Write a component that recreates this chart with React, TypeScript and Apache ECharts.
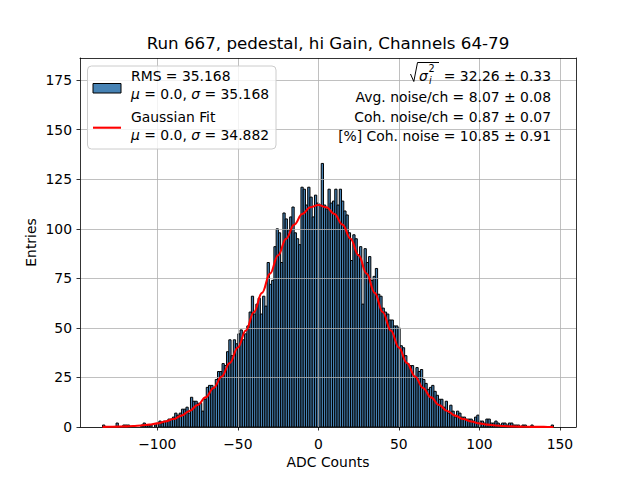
import * as echarts from 'echarts';
import React, { useEffect, useRef } from 'react';

// histogram: 200 bins starting at -134, 1.4 ADC counts wide
const HIST_START = -134;
const BIN_WIDTH = 1.4;
const binCounts = [
  1, 0, 0, 0, 0, 0, 2, 0, 0, 1, 1, 1, 0, 0, 0, 0, 0, 1, 2, 1,
  1, 1, 0, 1, 2, 3, 2, 3, 3, 4, 4, 5, 7, 6, 7, 9, 9, 10, 7, 15,
  13, 13, 12, 12, 8, 14, 20, 21, 21, 20, 24, 28, 28, 32, 31, 38, 44, 36, 44, 42,
  47, 49, 44, 47, 51, 58, 66, 57, 62, 65, 57, 66, 61, 83, 72, 74, 91, 100, 98, 83,
  108, 105, 99, 106, 111, 98, 95, 92, 121, 120, 112, 121, 116, 106, 117, 113, 112, 133, 112, 110,
  120, 113, 114, 120, 112, 120, 114, 109, 107, 98, 84, 97, 95, 87, 91, 62, 90, 83, 86, 74,
  76, 80, 67, 66, 60, 58, 57, 54, 54, 51, 51, 50, 41, 40, 36, 32, 31, 31, 25, 30,
  28, 29, 24, 22, 19, 20, 21, 18, 16, 14, 14, 10, 13, 7, 11, 8, 5, 8, 7, 5,
  5, 4, 4, 4, 3, 5, 6, 3, 3, 2, 4, 4, 2, 2, 3, 2, 1, 2, 2, 1,
  2, 2, 1, 1, 1, 0, 1, 1, 0, 0, 1, 0, 0, 0, 0, 0, 0, 0, 0, 1,
];

// gaussian fit curve
const fitX = [
  -134, -130, -125, -120, -115, -110, -105, -100, -95, -90, -85, -80, -75, -70, -65, -60,
  -55, -50, -45, -40, -35, -30, -25, -20, -15, -10, -5, 0, 5, 10, 15, 20, 25, 30, 35, 40,
  45, 50, 55, 60, 65, 70, 75, 80, 85, 90, 95, 100, 105, 110, 115, 120, 125, 130, 135, 140,
  145, 146,
];
const fitY = [
  0.07, 0.11, 0.18, 0.3, 0.49, 0.78, 1.21, 1.84, 2.75, 4.01, 5.75, 8.08, 11.1, 14.95, 19.7, 25.5,
  32.3, 40.1, 48.7, 58.0, 67.7, 77.4, 86.6, 95.0, 102.1, 107.5, 110.9, 112.0, 110.9, 107.5, 102.1, 95.0, 86.6, 77.4, 67.7, 58.0,
  48.7, 40.1, 32.3, 25.5, 19.7, 14.95, 11.1, 8.08, 5.75, 4.01, 2.75, 1.84, 1.21, 0.78, 0.49, 0.3, 0.18, 0.11, 0.06, 0.04,
  0.02, 0.02,
];

const xTicks = [-100, -50, 0, 50, 100, 150];
const yTicks = [0, 25, 50, 75, 100, 125, 150, 175];

const title = 'Run 667, pedestal, hi Gain, Channels 64-79';
const legendLines = [
  'RMS = 35.168',
  '{it|μ} = 0.0, {it|σ} = 35.168',
  'Gaussian Fit',
  '{it|μ} = 0.0, {it|σ} = 34.882',
];
const statLines = [
  '= 32.26 ± 0.33',
  'Avg. noise/ch = 8.07 ± 0.08',
  'Coh. noise/ch = 0.87 ± 0.07',
  '[%] Coh. noise = 10.85 ± 0.91',
];

const FONT = 'DejaVu Sans';
const FS = 13.9;
const BAR_COLOR = '#4682b4';

const histData = binCounts.map((c, i) => [
  HIST_START + i * BIN_WIDTH,
  HIST_START + (i + 1) * BIN_WIDTH,
  c,
]);

const txt = (text: string, x: number, y: number, extra: any = {}) => ({
  type: 'text',
  z: 100,
  style: {
    text,
    x,
    y,
    fontFamily: FONT,
    fontSize: FS,
    fill: '#000',
    align: 'left',
    verticalAlign: 'middle',
    rich: { it: { fontStyle: 'italic', fontFamily: FONT, fontSize: FS, fill: '#000' } },
    ...extra,
  },
});

const minus = (v: number) => (v < 0 ? '\u2212' + Math.abs(v) : String(v));

const option: any = {
  animation: false,
  backgroundColor: '#fff',
  grid: { left: 80, right: 64, top: 58, bottom: 53 },
  xAxis: [
    {
      type: 'value',
      min: -148,
      max: 160,
      z: 3,
      axisLine: { show: true, onZero: false, lineStyle: { color: '#000', width: 0.8 } },
      axisTick: { show: true, length: 3.5, customValues: xTicks, lineStyle: { color: '#000', width: 0.8 } },
      axisLabel: {
        customValues: xTicks,
        margin: 10,
        fontFamily: FONT,
        fontSize: FS,
        color: '#000',
        formatter: minus,
      },
      splitLine: { show: true, lineStyle: { color: '#b0b0b0', width: 0.8 } },
    },
    {
      type: 'value',
      position: 'top',
      min: -148,
      max: 160,
      z: 3,
      axisLine: { show: true, onZero: false, lineStyle: { color: '#000', width: 0.8 } },
      axisTick: { show: false },
      axisLabel: { show: false },
      splitLine: { show: false },
    },
  ],
  yAxis: [
    {
      type: 'value',
      min: 0,
      max: 186.2,
      z: 3,
      axisLine: { show: true, onZero: false, lineStyle: { color: '#000', width: 0.8 } },
      axisTick: { show: true, length: 3.5, customValues: yTicks, lineStyle: { color: '#000', width: 0.8 } },
      axisLabel: {
        customValues: yTicks,
        margin: 8,
        fontFamily: FONT,
        fontSize: FS,
        color: '#000',
      },
      splitLine: { show: true, lineStyle: { color: '#b0b0b0', width: 0.8 } },
    },
    {
      type: 'value',
      position: 'right',
      min: 0,
      max: 186.2,
      z: 3,
      axisLine: { show: true, onZero: false, lineStyle: { color: '#000', width: 0.8 } },
      axisTick: { show: false },
      axisLabel: { show: false },
      splitLine: { show: false },
    },
  ],
  series: [
    {
      type: 'custom',
      z: 2,
      xAxisIndex: 0,
      yAxisIndex: 0,
      dimensions: ['x0', 'x1', 'count'],
      encode: { x: [0, 1], y: 2 },
      data: histData,
      renderItem: (params: any, api: any) => {
        const c = api.value(2);
        if (!c) return null;
        const p0 = api.coord([api.value(0), c]);
        const p1 = api.coord([api.value(1), 0]);
        return {
          type: 'rect',
          shape: { x: p0[0], y: p0[1], width: p1[0] - p0[0], height: p1[1] - p0[1] },
          style: { fill: BAR_COLOR, stroke: '#000', lineWidth: 1 },
        };
      },
    },
    {
      type: 'line',
      z: 4,
      xAxisIndex: 0,
      yAxisIndex: 0,
      data: fitX.map((x, i) => [x, fitY[i]]),
      showSymbol: false,
      smooth: 0.4,
      smoothMonotone: 'x',
      lineStyle: { color: '#ff0000', width: 2.1 },
    },
  ],
  graphic: [
    txt(title, 328, 43, { fontSize: 16.7, align: 'center' }),
    txt('ADC Counts', 328, 462, { align: 'center' }),
    {
      type: 'text',
      z: 100,
      x: 31,
      y: 242.5,
      rotation: Math.PI / 2,
      style: {
        text: 'Entries',
        fontFamily: FONT,
        fontSize: FS,
        fill: '#000',
        align: 'center',
        verticalAlign: 'middle',
      },
    },
    // legend
    {
      type: 'rect',
      z: 90,
      shape: { x: 87.5, y: 66, width: 188.5, height: 83, r: 4 },
      style: { fill: 'rgba(255,255,255,0.8)', stroke: '#cccccc', lineWidth: 1 },
    },
    {
      type: 'rect',
      z: 100,
      shape: { x: 93, y: 83.5, width: 28, height: 9.5 },
      style: { fill: BAR_COLOR, stroke: '#000', lineWidth: 1 },
    },
    {
      type: 'line',
      z: 100,
      shape: { x1: 93, y1: 127.7, x2: 121, y2: 127.7 },
      style: { stroke: '#ff0000', lineWidth: 2.1 },
    },
    txt(legendLines[0], 131, 75.5),
    txt(legendLines[1], 131, 93.5),
    txt(legendLines[2], 131, 116.5),
    txt(legendLines[3], 131, 135),
    // stats text (top right)
    {
      type: 'polyline',
      z: 100,
      shape: { points: [[410.5, 74], [413.8, 81.5], [417.5, 62.5], [439, 62.5]] },
      style: { stroke: '#000', lineWidth: 1, fill: null },
    },
    txt('σ', 419, 76, { fontStyle: 'italic' }),
    txt('2', 428.5, 68.5, { fontSize: 9.7 }),
    txt('i', 429, 80.5, { fontSize: 9.7, fontStyle: 'italic' }),
    txt(statLines[0], 551, 76, { align: 'right' }),
    txt(statLines[1], 551, 96.7, { align: 'right' }),
    txt(statLines[2], 551, 116.7, { align: 'right' }),
    txt(statLines[3], 551, 135.5, { align: 'right' }),
  ],
};

const App: React.FC = () => {
  const chartRef = useRef<HTMLDivElement>(null);

  useEffect(() => {
    if (!chartRef.current) return;
    const chart = echarts.init(chartRef.current, null, { renderer: 'svg' });
    chart.setOption(option);
    return () => {
      chart.dispose();
    };
  }, []);

  return (
    <div
      ref={chartRef}
      style={{ position: 'fixed', left: 0, top: 0, width: 640, height: 480, background: '#fff' }}
    />
  );
};

export default App;
